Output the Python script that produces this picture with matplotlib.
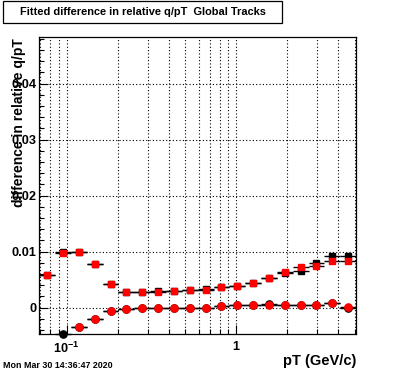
import matplotlib
matplotlib.use("Agg")
import matplotlib.pyplot as plt
import numpy as np
from matplotlib.ticker import MultipleLocator, NullFormatter, FixedLocator, LogLocator
from matplotlib.patches import Rectangle

plt.rcParams['font.family'] = ['Liberation Sans', 'DejaVu Sans']
plt.rcParams['font.weight'] = 'bold'
plt.rcParams['mathtext.fontset'] = 'custom'
plt.rcParams['mathtext.rm'] = 'Liberation Sans:bold'
plt.rcParams['mathtext.bf'] = 'Liberation Sans:bold'
plt.rcParams['mathtext.default'] = 'bf'

# bin edges in pT (GeV/c)
edges = [0.069, 0.0856, 0.1061, 0.1316, 0.1631, 0.2023, 0.2508, 0.311, 0.3857,
         0.4782, 0.593, 0.7353, 0.9118, 1.1306, 1.402, 1.7385, 2.1557, 2.6731,
         3.3147, 4.1102, 5.0966]

nan = np.nan
sq_black = [0.00590, 0.00985, 0.00995, 0.00785, 0.00425, 0.00280, 0.00280, 0.00295,
            0.00300, 0.00322, 0.00330, 0.00368, 0.00395, 0.00448, 0.00525, 0.00625,
            0.00660, 0.00800, 0.00930, 0.00930]
sq_red = [0.00584, 0.00982, 0.00995, 0.00780, 0.00423, 0.00275, 0.00275, 0.00286,
          0.00298, 0.00316, 0.00321, 0.00364, 0.00393, 0.00446, 0.00525, 0.00632,
          0.00732, 0.00736, 0.00839, 0.00839]
circ_black = [nan, -0.0047, -0.0034, -0.00196, -0.00054, -0.0003, -0.0001, 0.0,
              0.0, 0.0, 0.0, 0.0003, 0.0005, 0.0005, 0.0006, 0.00054, 0.00054,
              0.00054, 0.00084, -0.0001]
circ_red = [nan, nan, -0.0034, -0.00196, -0.00054, -0.0003, -0.0001, 0.0, 0.0, 0.0,
            0.0, 0.00025, 0.0005, 0.00045, 0.00054, 0.00054, 0.00054, 0.00054,
            0.00084, 0.0001]

edges = np.array(edges)
lo = edges[:-1]
hi = edges[1:]
xc = np.sqrt(lo * hi)
xerr = [xc - lo, hi - xc]

fig = plt.figure(figsize=(3.96, 3.72), dpi=100)
ax = fig.add_axes([0.0992, 0.1022, 0.7998, 0.798])
ax.set_xscale('log')

bar_kw = dict(ecolor='black', elinewidth=1.0, capsize=0, linestyle='none')
ax.errorbar(xc, sq_black, xerr=xerr, marker='s', ms=4.8, mfc='black', mec='black', **bar_kw)
ax.errorbar(xc, circ_black, xerr=xerr, marker='o', ms=5.2, mfc='black', mec='black',
            clip_on=False, **bar_kw)
ax.errorbar(xc, sq_red, xerr=xerr, marker='s', ms=4.8, mfc='red', mec='red', **bar_kw)
ax.errorbar(xc, circ_red, xerr=xerr, marker='o', ms=5.2, mfc='red', mec='red', **bar_kw)

ax.set_xlim(0.069, 5.09)
ax.set_ylim(-0.0047, 0.0483)

ax.xaxis.set_major_locator(FixedLocator([0.1, 1]))
ax.set_xticklabels([r'$10^{-1}$', '1'])
ax.xaxis.set_minor_locator(LogLocator(base=10, subs=np.arange(2, 10)))
ax.xaxis.set_minor_formatter(NullFormatter())
ax.yaxis.set_major_locator(FixedLocator([0, 0.01, 0.02, 0.03, 0.04]))
ax.set_yticklabels(['0', '0.01', '0.02', '0.03', '0.04'])
ax.yaxis.set_minor_locator(MultipleLocator(0.002))

ax.tick_params(which='both', direction='in', top=False, right=False, labelsize=9.2)
ax.tick_params(which='major', length=6.8, width=0.8, pad=2)
ax.tick_params(which='minor', length=3.4, width=0.8)
ax.tick_params(axis='x', which='major', pad=5)

ax.grid(True, which='both', axis='x', color='black', linestyle=(0, (1, 2)), linewidth=0.8)
ax.grid(True, which='major', axis='y', color='black', linestyle=(0, (1, 2)), linewidth=0.8)
for s in ax.spines.values():
    s.set_linewidth(0.9)

fig.text(356 / 396, 1 - 365 / 372, 'pT (GeV/c)', ha='right', va='baseline', fontsize=10.5)
fig.text(19 / 396, 1 - 38 / 372, 'difference in relative q/pT', rotation=90,
         ha='center', va='top', fontsize=10)
fig.text(3 / 396, 1 - 368 / 372, 'Mon Mar 30 14:36:47 2020', ha='left', va='baseline',
         fontsize=6.4)

# title box
fig.patches.append(Rectangle((3 / 396, 1 - 23 / 372), 279 / 396, 22 / 372,
                             transform=fig.transFigure, facecolor='white',
                             edgecolor='black', linewidth=0.9))
fig.text(142.5 / 396, 1 - 12 / 372, 'Fitted difference in relative q/pT  Global Tracks',
         ha='center', va='center', fontsize=7.9)

fig.savefig('out.png', dpi=100)
